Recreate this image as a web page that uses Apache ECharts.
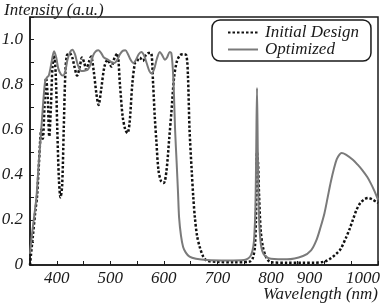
<!DOCTYPE html>
<html>
<head>
<meta charset="utf-8">
<script src="https://cdn.jsdelivr.net/npm/echarts@6/dist/echarts.min.js"></script>
<style>
  html, body { margin: 0; padding: 0; background: #fff; }
  #main { width: 380px; height: 303px; }
</style>
</head>
<body>
<div id="main"></div>
<script>
// 数据：波长 (nm) 与强度
let initWl = [350, 352, 355, 360, 363, 366, 369, 371, 374, 377, 380, 383, 386, 389, 392, 395, 398, 401, 404, 407, 410, 413, 416, 419, 424, 429, 433, 438, 443, 447, 451, 455, 460, 464, 469, 474, 478, 483, 489, 495, 502, 508, 513, 518, 523, 528, 532, 536, 541, 546, 550, 555, 561, 566, 571, 576, 580, 583, 586, 590, 595, 600, 605, 610, 614, 619, 624, 630, 636, 642, 645, 648, 652, 655, 658, 662, 667, 673, 680, 700, 730, 760, 766, 770, 772, 774, 776, 778, 781, 785, 790, 795, 800, 830, 860, 880, 900, 912, 922, 930, 940, 947, 953, 960, 967, 975, 982, 990, 1000]
let initVal = [0.0, 0.05, 0.12, 0.24, 0.3, 0.42, 0.55, 0.6, 0.56, 0.7, 0.83, 0.75, 0.57, 0.7, 0.88, 0.93, 0.85, 0.6, 0.38, 0.3, 0.35, 0.6, 0.85, 0.93, 0.94, 0.92, 0.88, 0.84, 0.88, 0.92, 0.9, 0.867, 0.9, 0.925, 0.86, 0.76, 0.71, 0.78, 0.88, 0.91, 0.88, 0.92, 0.938, 0.8, 0.66, 0.6, 0.585, 0.63, 0.8, 0.895, 0.905, 0.92, 0.905, 0.93, 0.94, 0.94, 0.8, 0.66, 0.55, 0.42, 0.37, 0.364, 0.42, 0.56, 0.675, 0.83, 0.9, 0.93, 0.935, 0.93, 0.84, 0.6, 0.42, 0.3, 0.21, 0.13, 0.08, 0.04, 0.02, 0.014, 0.012, 0.015, 0.03, 0.08, 0.2, 0.5, 0.45, 0.3, 0.15, 0.08, 0.04, 0.02, 0.012, 0.01, 0.01, 0.01, 0.015, 0.03, 0.05, 0.07, 0.12, 0.16, 0.2, 0.245, 0.275, 0.292, 0.297, 0.29, 0.275]

let optWl = [350, 353, 357, 362, 366, 371, 374, 378, 381, 385, 388, 391, 395, 399, 403, 408, 412, 416, 420, 425, 429, 434, 439, 446, 452, 458, 463, 468, 473, 478, 483, 488, 496, 502, 508, 513, 518, 523, 528, 533, 538, 543, 548, 553, 558, 563, 568, 573, 577, 582, 587, 592.5, 597, 602, 606, 611, 614, 617, 619, 621, 624, 626.5, 628.5, 632, 636, 641, 648, 660, 680, 720, 750, 758, 763, 767, 769, 771, 772.5, 774, 775.5, 777, 779, 782, 786, 792, 800, 830, 860, 875, 885, 893, 900, 906, 912, 918, 923, 928, 932, 940, 953, 962, 971, 980, 987, 993, 1000]
let optVal = [0.05, 0.12, 0.2, 0.3, 0.44, 0.6, 0.7, 0.81, 0.83, 0.84, 0.87, 0.91, 0.948, 0.92, 0.87, 0.845, 0.84, 0.86, 0.91, 0.945, 0.955, 0.935, 0.89, 0.86, 0.862, 0.867, 0.89, 0.93, 0.948, 0.952, 0.94, 0.92, 0.91, 0.9, 0.896, 0.91, 0.935, 0.95, 0.952, 0.935, 0.91, 0.896, 0.91, 0.935, 0.945, 0.93, 0.895, 0.86, 0.85, 0.87, 0.915, 0.945, 0.93, 0.91, 0.92, 0.945, 0.94, 0.86, 0.75, 0.6, 0.45, 0.32, 0.21, 0.13, 0.08, 0.055, 0.037, 0.028, 0.022, 0.02, 0.022, 0.03, 0.045, 0.08, 0.13, 0.25, 0.5, 0.785, 0.5, 0.27, 0.15, 0.08, 0.05, 0.035, 0.028, 0.025, 0.04, 0.065, 0.11, 0.17, 0.23, 0.3, 0.37, 0.43, 0.47, 0.49, 0.497, 0.49, 0.467, 0.445, 0.42, 0.39, 0.36, 0.33, 0.29]

// 坐标轴刻度
let xTicks = [400, 500, 600, 700, 800, 900, 1000]
let yTicks = [0, 0.2, 0.4, 0.6, 0.8, 1.0]

let font = 'Liberation Serif, Times New Roman, serif'
let ink = '#1a1a1a'
let italic = { fontFamily: font, fontStyle: 'italic', fontWeight: 'normal', fontSize: 17, color: ink }

function pairs(xs, ys) {
    return xs.map((x, i) => [x, ys[i]])
}

let ele = echarts.init(document.getElementById('main'))
const option = {
    animation: false,
    title: [
        {
            text: 'Intensity (a.u.)',
            left: -1,
            top: -3,
            textStyle: italic
        },
        {
            text: 'Wavelength (nm)',
            right: -3,
            top: 281,
            textStyle: italic
        }
    ],
    legend: {
        left: 212,
        top: 20,
        orient: 'vertical',
        padding: [4, 12, 3, 15],
        itemGap: 0,
        itemWidth: 30,
        itemHeight: 17,
        borderColor: ink,
        borderWidth: 1.5,
        borderRadius: 8,
        // 隐藏图例里的圆点，只保留线
        itemStyle: { color: 'rgba(0,0,0,0)', borderWidth: 0, opacity: 0 },
        textStyle: Object.assign({ padding: [0, 0, 0, 2] }, italic),
        data: ['Initial Design', 'Optimized']
    },
    grid: {
        left: 30,
        right: 2,
        top: 17,
        bottom: 38,
        outerBoundsMode: 'none',
        show: true,
        borderColor: ink,
        borderWidth: 1.5
    },
    xAxis: {
        type: 'value',
        min: 350,
        max: 1000,
        interval: 50,
        axisLine: { lineStyle: { color: ink, width: 1.5 } },
        axisTick: { inside: true, length: 4, lineStyle: { color: ink } },
        splitLine: { show: false },
        axisLabel: {
            margin: 5,
            formatter: function (v) {
                if (xTicks.indexOf(v) < 0) return ''
                if (v >= 900) return '{s|' + v + '}'
                return '{n|' + v + '}'
            },
            rich: {
                n: italic,
                s: Object.assign({ padding: [0, 30, 0, 0] }, italic)
            }
        }
    },
    yAxis: {
        type: 'value',
        min: 0,
        max: 1.1,
        interval: 0.1,
        axisLine: { lineStyle: { color: ink, width: 1.5 } },
        axisTick: { inside: true, length: 4, lineStyle: { color: ink } },
        splitLine: { show: false },
        axisLabel: {
            margin: 7,
            formatter: function (v) {
                let k = yTicks.find(t => Math.abs(t - v) < 1e-6)
                if (k === undefined) return ''
                return '{n|' + (k === 0 ? '0' : k.toFixed(1)) + '}'
            },
            rich: { n: italic }
        }
    },
    series: [
        {
            name: 'Initial Design',
            type: 'line',
            data: pairs(initWl, initVal),
            showSymbol: false,
            symbol: 'none',
            smooth: 0.3,
            lineStyle: { color: '#111', width: 2.5, type: [2.5, 2] },
            itemStyle: { color: '#111' }
        },
        {
            name: 'Optimized',
            type: 'line',
            data: pairs(optWl, optVal),
            showSymbol: false,
            symbol: 'none',
            smooth: 0.3,
            lineStyle: { color: '#7a7a7a', width: 2 },
            itemStyle: { color: '#7a7a7a' }
        }
    ]
}
ele.setOption(option)
</script>
</body>
</html>
